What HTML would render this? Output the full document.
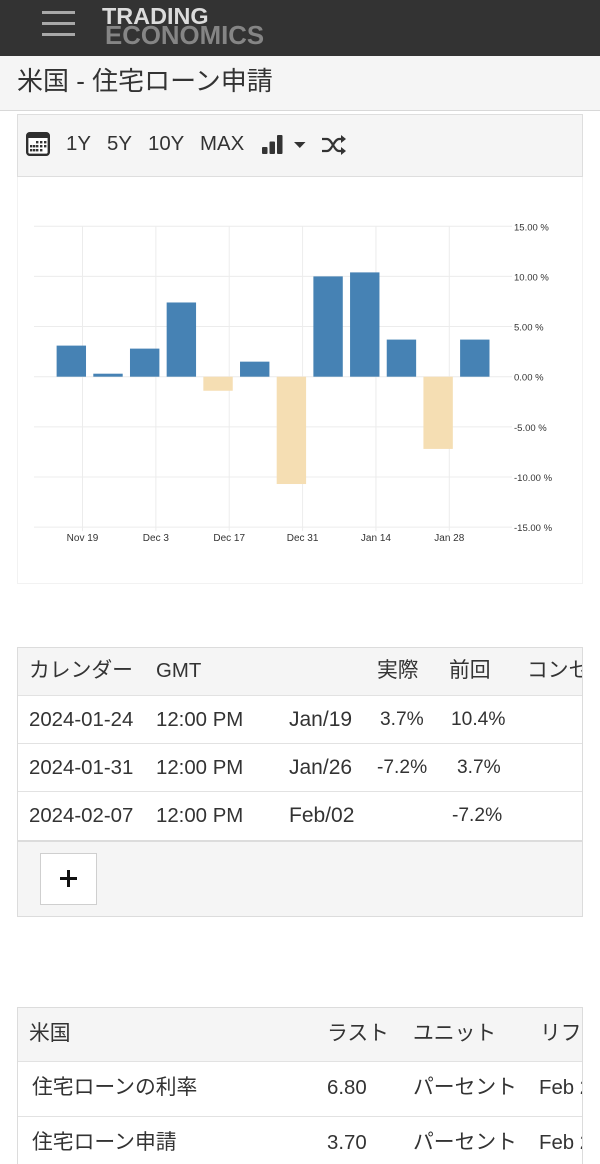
<!DOCTYPE html>
<html lang="ja">
<head>
<meta charset="utf-8">
<title>米国 - 住宅ローン申請</title>
<style>
html,body{margin:0;padding:0;background:#fff;}
body{position:relative;width:600px;height:1164px;overflow:hidden;font-family:"Liberation Sans","Noto Sans CJK JP",sans-serif;color:#333;}
.abs{position:absolute;}
.t{position:absolute;white-space:nowrap;font-size:20.4px;line-height:28px;height:28px;color:#333;}
.j{font-size:20.8px;}
.box{position:absolute;overflow:hidden;box-sizing:border-box;}
.line{position:absolute;left:0;right:0;height:1px;background:#e2e2e2;}
</style>
</head>
<body>

<div class="abs" style="left:0;top:0;width:600px;height:56px;background:#333;">
  <div class="abs" style="left:42px;top:11px;width:33px;height:27px;">
    <div class="abs" style="left:0;top:0;width:33px;height:3px;background:#a8a8a8;"></div>
    <div class="abs" style="left:0;top:11px;width:33px;height:3px;background:#a8a8a8;"></div>
    <div class="abs" style="left:0;top:22px;width:33px;height:3px;background:#a8a8a8;"></div>
  </div>
  <div class="t" style="left:102px;top:2px;font-size:23.4px;font-weight:bold;color:#dcdcdc;">TRADING</div>
  <div class="t" style="left:105px;top:22px;font-size:25.8px;font-weight:bold;color:#858585;">ECONOMICS</div>
</div>

<div class="abs" style="left:0;top:56px;width:600px;height:55px;background:#f5f5f5;border-bottom:1px solid #d8d8d8;box-sizing:border-box;">
  <div class="t" style="left:17px;top:11px;font-size:26px;color:#333;">米国 - 住宅ローン申請</div>
</div>

<div class="box" style="left:17px;top:114px;width:566px;height:63px;background:#f5f5f5;border:1px solid #dedede;">
  <svg class="abs" style="left:8px;top:17px;" width="26" height="26" viewBox="0 0 26 26">
    <rect x="1.2" y="1.2" width="21.6" height="21.6" rx="2.5" fill="#fff" stroke="#2f2f2f" stroke-width="2.4"/>
    <rect x="1" y="1" width="22" height="5" fill="#2f2f2f"/>
    <g fill="#333">
      <rect x="10" y="9" width="2.4" height="2.4"/><rect x="14" y="9" width="2.4" height="2.4"/><rect x="18" y="9" width="2.4" height="2.4"/>
      <rect x="4" y="13" width="2.4" height="2.4"/><rect x="7" y="13" width="2.4" height="2.4"/><rect x="10" y="13" width="2.4" height="2.4"/><rect x="14" y="13" width="2.4" height="2.4"/><rect x="18" y="13" width="2.4" height="2.4"/>
      <rect x="4" y="17" width="2.4" height="2.4"/><rect x="7" y="17" width="2.4" height="2.4"/><rect x="10" y="17" width="2.4" height="2.4"/><rect x="14" y="17" width="2.4" height="2.4"/>
    </g>
  </svg>
  <div class="t" style="left:48px;top:15px;">1Y</div>
  <div class="t" style="left:89px;top:15px;">5Y</div>
  <div class="t" style="left:130px;top:15px;">10Y</div>
  <div class="t" style="left:182px;top:15px;">MAX</div>
  <svg class="abs" style="left:244px;top:19px;" width="22" height="22" viewBox="0 0 22 22">
    <rect x="0" y="13" width="5.5" height="7" rx="1" fill="#333"/>
    <rect x="7.5" y="7.5" width="5.5" height="12.5" rx="1" fill="#333"/>
    <rect x="15" y="1" width="5.5" height="19" rx="1" fill="#333"/>
  </svg>
  <svg class="abs" style="left:275px;top:26px;" width="14" height="9" viewBox="0 0 14 9">
    <path d="M1 1 H12.5 L6.8 7 Z" fill="#333"/>
  </svg>
  <svg class="abs" style="left:303px;top:19px;" width="26" height="22" viewBox="0 0 26 22">
    <path d="M1 5 H6 C11 5 13 17 18 17 H21 M1 17 H6 C11 17 13 5 18 5 H21" fill="none" stroke="#333" stroke-width="2.2"/>
    <path d="M20 1 L25 5 L20 9 Z M20 13 L25 17 L20 21 Z" fill="#333"/>
  </svg>
</div>

<div class="box" style="left:17px;top:177px;width:566px;height:407px;border:1px solid #f2f2f2;border-top:none;background:#fff;"></div>
<svg id="chart" class="abs" style="left:0;top:177px;" width="600" height="407" viewBox="0 177 600 407" font-family="'Liberation Sans',sans-serif"></svg>

<div class="box" style="left:17px;top:647px;width:566px;height:270px;border:1px solid #dcdcdc;background:#fff;">
  <div class="abs" style="left:0;top:0;width:100%;height:47px;background:#f5f5f5;"></div>
  <div class="line" style="top:47px;"></div>
  <div class="line" style="top:95px;"></div>
  <div class="line" style="top:143px;"></div>
  <div class="abs" style="left:0;top:192px;width:100%;height:76px;background:#f5f5f5;border-top:2px solid #dcdcdc;box-sizing:border-box;"></div>
  <div class="t j" style="left:11px;top:9px;">カレンダー</div>
  <div class="t" style="left:138px;top:9px;">GMT</div>
  <div class="t j" style="left:359px;top:9px;">実際</div>
  <div class="t j" style="left:431px;top:9px;">前回</div>
  <div class="t j" style="left:509px;top:9px;">コンセンサス</div>

  <div class="t" style="left:11px;top:58px;">2024-01-24</div>
  <div class="t" style="left:138px;top:58px;">12:00 PM</div>
  <div class="t" style="left:271px;top:58px;font-size:21px;">Jan/19</div>
  <div class="t" style="left:362px;top:58px;font-size:19.2px;">3.7%</div>
  <div class="t" style="left:433px;top:58px;font-size:19.2px;">10.4%</div>

  <div class="t" style="left:11px;top:106px;">2024-01-31</div>
  <div class="t" style="left:138px;top:106px;">12:00 PM</div>
  <div class="t" style="left:271px;top:106px;font-size:21px;">Jan/26</div>
  <div class="t" style="left:359px;top:106px;font-size:19.2px;">-7.2%</div>
  <div class="t" style="left:439px;top:106px;font-size:19.2px;">3.7%</div>

  <div class="t" style="left:11px;top:154px;">2024-02-07</div>
  <div class="t" style="left:138px;top:154px;">12:00 PM</div>
  <div class="t" style="left:271px;top:154px;font-size:21px;">Feb/02</div>
  <div class="t" style="left:434px;top:154px;font-size:19.2px;">-7.2%</div>

  <div class="abs" style="left:22px;top:205px;width:57px;height:52px;background:#fff;border:1px solid #cfcfcf;box-sizing:border-box;">
    <div class="abs" style="left:19px;top:23px;width:17px;height:3px;background:#111;"></div>
    <div class="abs" style="left:26px;top:16px;width:3px;height:17px;background:#111;"></div>
  </div>
</div>

<div class="box" style="left:17px;top:1007px;width:566px;height:157px;border:1px solid #dcdcdc;border-bottom:none;background:#fff;">
  <div class="abs" style="left:0;top:0;width:100%;height:53px;background:#f5f5f5;"></div>
  <div class="line" style="top:53px;"></div>
  <div class="line" style="top:108px;"></div>
  <div class="t j" style="left:11px;top:12px;">米国</div>
  <div class="t j" style="left:309px;top:12px;">ラスト</div>
  <div class="t j" style="left:395px;top:12px;">ユニット</div>
  <div class="t j" style="left:522px;top:12px;">リファレンス</div>

  <div class="t j" style="left:14px;top:66px;">住宅ローンの利率</div>
  <div class="t" style="left:309px;top:66px;">6.80</div>
  <div class="t j" style="left:395px;top:66px;">パーセント</div>
  <div class="t" style="left:521px;top:66px;">Feb 2024</div>

  <div class="t j" style="left:14px;top:121px;">住宅ローン申請</div>
  <div class="t" style="left:309px;top:121px;">3.70</div>
  <div class="t j" style="left:395px;top:121px;">パーセント</div>
  <div class="t" style="left:521px;top:121px;">Feb 2024</div>
</div>

<script>
const categories = ["2023-11-17","2023-11-24","2023-12-01","2023-12-08","2023-12-15","2023-12-22","2023-12-29","2024-01-05","2024-01-12","2024-01-19","2024-01-26","2024-02-02"];
const seriesValues = [3.1,0.3,2.8,7.4,-1.4,1.5,-10.7,10.0,10.4,3.7,-7.2,3.7];
const yTicks = [15,10,5,0,-5,-10,-15];
const xTickDates = ["2023-11-19","2023-12-03","2023-12-17","2023-12-31","2024-01-14","2024-01-28"];
const xTickLabels = ["Nov 19","Dec 3","Dec 17","Dec 31","Jan 14","Jan 28"];

const svg = document.getElementById('chart');
const NS = 'http://www.w3.org/2000/svg';
const dayMs = 86400000;
const xOrigin = Date.UTC(2023,10,19);
function xScale(dateStr){
  const p = dateStr.split('-').map(Number);
  return 82.5 + (Date.UTC(p[0],p[1]-1,p[2]) - xOrigin) / dayMs * 5.24;
}
function yScale(v){ return 376.7 - v * 10.03; }
function make(tag, attrs){
  const el = document.createElementNS(NS, tag);
  for (const k in attrs) el.setAttribute(k, attrs[k]);
  return el;
}

yTicks.forEach(function(t){
  const line = make('line',{x1:34,x2:512,y1:yScale(t),y2:yScale(t),stroke:'#ececec','stroke-width':1});
  
  
  svg.appendChild(line);
  const label = make('text',{x:514,y:yScale(t)+4,'font-size':9.5,fill:'#333'});
  
  
  label.textContent = t.toFixed(2) + ' %';
  svg.appendChild(label);
});

xTickDates.forEach(function(d,i){
  const line = make('line',{x1:xScale(d),x2:xScale(d),y1:yScale(15),y2:yScale(-15)+4,stroke:'#ececec','stroke-width':1});
  
  
  svg.appendChild(line);
  const label = make('text',{x:xScale(d),y:541,'font-size':10,fill:'#333','text-anchor':'middle'});
  
  
  label.textContent = xTickLabels[i];
  svg.appendChild(label);
});

categories.forEach(function(d,i){
  const v = seriesValues[i];
  const cx = xScale(d) - 0.7;
  const top = yScale(Math.max(v,0));
  const bottom = yScale(Math.min(v,0));
  const bar = make('rect',{x:cx-14.7,y:top,width:29.4,height:bottom-top,fill:v>=0?'#4682b4':'#f5deb3'});
  
  
  svg.appendChild(bar);
});
</script>
</body>
</html>
